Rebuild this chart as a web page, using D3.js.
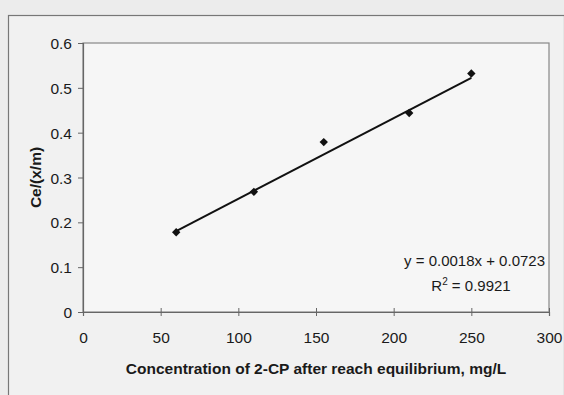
<!DOCTYPE html>
<html>
<head>
<meta charset="utf-8">
<script src="https://cdn.jsdelivr.net/npm/d3@7"></script>
<style>
  body { margin: 0; background: #ececec; }
  svg { display: block; font-family: "Liberation Sans", Arial, sans-serif; }
</style>
</head>
<body>
<div id="chart"></div>
<script>
// measured points
const concentration = [60, 110, 155, 210, 250];
const ceRatio = [0.178, 0.268, 0.379, 0.444, 0.532];
const xTicks = [0, 50, 100, 150, 200, 250, 300];
const yTicks = [0, 0.1, 0.2, 0.3, 0.4, 0.5, 0.6];
const slope = 0.0018;
const intercept = 0.0723;

const width = 564, height = 395;
const margin = { top: 43, right: 15, bottom: 83, left: 83 };

const svg = d3.select('#chart').append('svg')
    .attr('width', width)
    .attr('height', height);

// outer frame
svg.append('rect')
    .attr('x', 8.5).attr('y', 15.5)
    .attr('width', 556).attr('height', 390)
    .attr('fill', '#f1f1f1')
    .attr('stroke', '#777').attr('stroke-width', 1.2);

const x = d3.scaleLinear().domain([0, 300]).range([margin.left, width - margin.right]);
const y = d3.scaleLinear().domain([0, 0.6]).range([height - margin.bottom, margin.top]);

// plot area
svg.append('rect')
    .attr('x', x(0)).attr('y', y(0.6))
    .attr('width', x(300) - x(0)).attr('height', y(0) - y(0.6))
    .attr('fill', '#f6f6f6')
    .attr('stroke', '#888').attr('stroke-width', 1.2);

const xAxis = svg.append('g')
    .attr('transform', `translate(0,${y(0)})`)
    .call(d3.axisBottom(x).tickValues(xTicks).tickSize(4).tickFormat(d3.format('d')));
xAxis.selectAll('.tick line').attr('y1', -4);

const yAxis = svg.append('g')
    .attr('transform', `translate(${x(0)},0)`)
    .call(d3.axisLeft(y).tickValues(yTicks).tickSize(5).tickFormat(d => d === 0 ? '0' : d3.format('.1f')(d)));

[xAxis, yAxis].forEach(g => {
    g.select('.domain').attr('stroke', '#666').attr('stroke-width', 1.2);
    g.selectAll('.tick line').attr('stroke', '#666');
    g.selectAll('text').attr('fill', '#1a1a1a').style('font-size', '15.5px');
});
xAxis.selectAll('text').attr('y', 31).attr('dy', null);
yAxis.selectAll('text').attr('x', -11).attr('dy', '0.36em');

// trend line
const xs = d3.extent(concentration);
svg.append('line')
    .attr('x1', x(xs[0])).attr('y1', y(slope * xs[0] + intercept))
    .attr('x2', x(xs[1])).attr('y2', y(slope * xs[1] + intercept))
    .attr('stroke', '#111').attr('stroke-width', 2);

// diamond markers
svg.selectAll('.pt')
    .data(concentration)
    .enter().append('path')
    .attr('class', 'pt')
    .attr('transform', (d, i) => `translate(${x(d)},${y(ceRatio[i])})`)
    .attr('d', d3.symbol().type(d3.symbolDiamond2).size(45))
    .attr('fill', '#111');

// equation
svg.append('text')
    .attr('x', 545).attr('y', 266)
    .attr('text-anchor', 'end')
    .style('font-size', '15px').attr('fill', '#1a1a1a')
    .text('y = 0.0018x + 0.0723');

const r2 = svg.append('text')
    .attr('x', 471).attr('y', 291)
    .attr('text-anchor', 'middle')
    .style('font-size', '15px').attr('fill', '#1a1a1a');
r2.append('tspan').text('R');
r2.append('tspan').attr('dy', -6).style('font-size', '10px').text('2');
r2.append('tspan').attr('dy', 6).text(' = 0.9921');

// axis titles
svg.append('text')
    .attr('x', 316).attr('y', 374)
    .attr('text-anchor', 'middle')
    .style('font-size', '15.5px').style('font-weight', 'bold').attr('fill', '#1a1a1a')
    .text('Concentration of 2-CP after reach equilibrium, mg/L');

svg.append('text')
    .attr('transform', `translate(41,${(y(0) + y(0.6)) / 2}) rotate(-90)`)
    .attr('text-anchor', 'middle')
    .style('font-size', '15.5px').style('font-weight', 'bold').attr('fill', '#1a1a1a')
    .text('Ce/(x/m)');
</script>
</body>
</html>
